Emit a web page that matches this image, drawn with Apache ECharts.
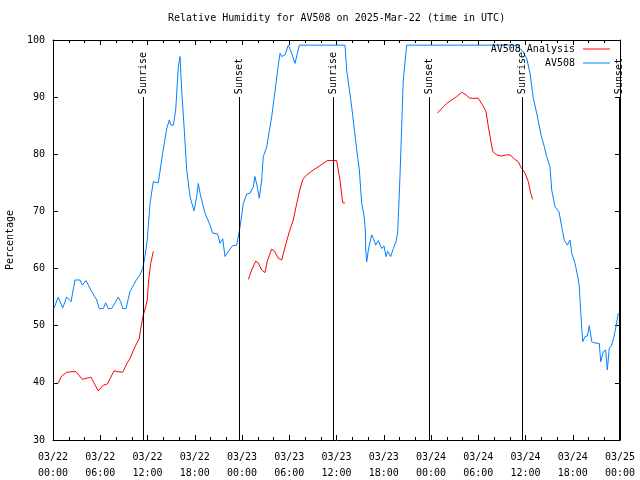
<!DOCTYPE html>
<html>
<head>
<meta charset="utf-8">
<script src="https://cdn.jsdelivr.net/npm/echarts@6/dist/echarts.min.js"></script>
<style>html,body{margin:0;padding:0;background:#fff}#c{width:640px;height:480px}</style>
</head>
<body>
<div id="c"></div>
<script>
const titleText = 'Relative Humidity for AV508 on 2025-Mar-22 (time in UTC)';
const xTickLabels = ['03/22\n00:00','03/22\n06:00','03/22\n12:00','03/22\n18:00','03/23\n00:00','03/23\n06:00','03/23\n12:00','03/23\n18:00','03/24\n00:00','03/24\n06:00','03/24\n12:00','03/24\n18:00','03/25\n00:00'];
const seriesNames = ['AV508 Analysis', 'AV508'];

// hours since 03/22 00:00 UTC
const obsHours = [0.1,0.67,1.23,1.74,2.29,2.79,3.43,3.72,4.19,4.91,5.55,5.88,6.39,6.69,7.02,7.45,8.29,8.6,8.85,9.27,9.78,10.54,11.05,11.39,11.68,11.97,12.32,12.74,13.37,13.93,14.44,14.77,14.98,15.28,15.58,15.91,16.13,16.34,16.67,16.98,17.4,17.9,18.25,18.45,18.67,19.3,19.94,20.28,20.91,21.21,21.55,21.84,22.39,22.82,23.33,23.75,24.17,24.6,25.02,25.44,25.65,25.94,26.2,26.5,26.7,27.14,27.77,28.19,28.61,28.83,29.04,29.46,29.88,30.31,30.73,31.28,37.08,37.29,37.93,38.57,38.9,39.2,39.49,39.66,39.71,39.84,40.04,40.47,40.67,40.98,41.31,41.74,42.03,42.29,42.5,42.88,43.21,43.56,43.77,43.9,44.06,44.48,44.91,59.09,59.3,59.72,60.15,60.57,60.99,61.42,61.97,62.39,62.69,63.11,63.33,63.75,64.25,64.6,64.93,65.31,65.65,65.87,66.29,66.63,66.83,67.05,67.26,67.56,67.85,68.1,68.41,68.7,69.37,69.55,69.88,70.18,70.39,70.64,70.95,71.24,71.49,71.78];
const obsValues = [53,55,53.1,55,54.2,58,58,57.1,57.9,56,54.5,53,53,54,53,53,55,54.2,53,53,56,57.9,58.9,60,62.1,65,71.4,75.2,75,80.2,84.5,86,85.1,85.1,87.75,95.3,97.1,91.25,84.25,77.25,72.6,70.1,72.6,74.9,73.2,69.7,67.6,66.2,66.05,64.4,65.2,62.1,63.25,64,64.1,67.3,71.4,73.05,73.2,74.3,76.1,74.3,72.3,75.5,79.6,81.3,86.6,91,95.6,97.7,97.1,97.4,99.1,97.7,95.9,99.1,99.1,94.75,88.3,80.75,77.25,71.4,69.4,66.75,63.25,61.2,63.25,65.9,65.3,64.1,64.9,63.5,63.95,62.1,63,62.1,63.5,64.7,66.5,70.5,76.1,93,99.1,99.1,98.5,97.9,96.8,94.2,89.8,87.2,83.4,81.3,79.6,77.8,73.75,70.8,69.95,67.3,65,64.1,65,62.7,60.9,58.6,56.8,51.6,47.2,48.1,48.2,50,47.2,47,46.9,43.7,45.5,45.75,42.25,46.05,46.6,48.1,49.8,52.2];

const anaHours = [0.67,1.1,1.74,2.37,2.92,3.72,4.19,4.83,5.12,5.75,6.39,6.9,7.75,8.29,8.85,9.43,9.78,10.41,10.96,11.14,11.47,11.77,11.97,12.15,12.41,12.74,18.0,24.8,25.23,25.74,26.07,26.5,26.92,27.21,27.77,28.1,28.61,29.04,29.59,30.01,30.51,30.86,31.28,31.71,32.22,33.05,33.9,34.83,36.02,36.15,36.44,36.79,37.08,43.0,48.8,49.05,49.56,49.99,50.63,51.26,51.9,52.44,52.95,54.01,54.56,54.98,55.28,55.58,55.84,56.34,56.98,57.61,58.03,58.67,59.09,59.39,59.52,59.94,60.15,60.36,60.66,60.91,60.99];
const anaValues = [40,41.2,41.85,41.95,41.95,40.6,40.8,40.97,40.2,38.6,39.6,39.8,42.1,41.95,41.85,43.5,44.3,46.3,47.8,49.5,51.9,53.3,54.5,58,60.9,63,null,58.1,59.75,61.3,61,59.75,59.3,61.3,63.4,63.1,61.8,61.5,64.4,66.45,68.5,70.8,73.45,75.6,76.4,77.25,78,78.9,78.9,77.8,75.5,71.5,71.5,null,87.2,87.2,88.3,88.9,89.5,90.1,90.85,90.4,89.8,89.8,88.6,87.5,84.85,82.5,80.5,79.9,79.7,79.9,79.9,79.1,78.7,77.8,77.55,76.7,76.4,75.2,73.2,72.1,72.1];

const sunHours = [11.43, 23.62, 35.56, 47.75, 59.56, 71.87];
const sunLabels = ['Sunrise','Sunset','Sunrise','Sunset','Sunrise','Sunset'];

const FONT = '"DejaVu Sans Mono", "Liberation Mono", monospace';
const zip = (a, b) => a.map((h, i) => [h, b[i]]);

const chart = echarts.init(document.getElementById('c'), null, {renderer: 'canvas'});
const axisCommon = {
  axisLine: {show: true, onZero: false, lineStyle: {color: '#000', width: 1}},
  splitLine: {show: false}
};
chart.setOption({
  animation: false,
  backgroundColor: '#fff',
  grid: {left: 53, right: 20, top: 40, bottom: 40, containLabel: false, outerBoundsMode: 'none'},
  graphic: [{
    type: 'text', left: 336 - 168, top: 13,
    style: {text: titleText, font: '10px ' + FONT, fill: '#000'}
  }],
  legend: {
    orient: 'vertical', right: 25, top: 39, align: 'right',
    icon: 'rect', itemWidth: 27, itemHeight: 1, itemGap: 4,
    textStyle: {fontFamily: FONT, fontSize: 10, color: '#000', padding: [0, 3, 0, 0]},
    data: seriesNames
  },
  xAxis: [
    Object.assign({}, axisCommon, {
      type: 'value', min: 0, max: 72, interval: 6,
      axisTick: {show: true, inside: true, length: 5, lineStyle: {color: '#000'}},
      minorTick: {show: true, splitNumber: 3, length: 3, lineStyle: {color: '#000'}},
      axisLabel: {
        margin: 9, fontFamily: FONT, fontSize: 10, color: '#000', lineHeight: 16,
        formatter: v => xTickLabels[Math.round(v / 6)]
      }
    }),
    Object.assign({}, axisCommon, {
      type: 'value', position: 'top', min: 0, max: 72, interval: 6,
      axisTick: {show: true, inside: true, length: 5, lineStyle: {color: '#000'}},
      minorTick: {show: true, splitNumber: 3, length: 3, lineStyle: {color: '#000'}},
      axisLabel: {show: false}
    })
  ],
  yAxis: [
    Object.assign({}, axisCommon, {
      type: 'value', min: 30, max: 100, interval: 10,
      name: 'Percentage', nameLocation: 'middle', nameRotate: 90, nameGap: 38,
      nameTextStyle: {fontFamily: FONT, fontSize: 10, color: '#000'},
      axisTick: {show: true, inside: true, length: 5, lineStyle: {color: '#000'}},
      axisLabel: {margin: 8, fontFamily: FONT, fontSize: 10, color: '#000'}
    }),
    Object.assign({}, axisCommon, {
      type: 'value', position: 'right', min: 30, max: 100, interval: 10,
      axisTick: {show: true, inside: true, length: 5, lineStyle: {color: '#000'}},
      axisLabel: {show: false}
    })
  ],
  series: [
    {
      name: seriesNames[0], type: 'line', data: zip(anaHours, anaValues),
      symbol: 'none', connectNulls: false, color: '#ff0000',
      lineStyle: {width: 1, color: '#ff0000'}, z: 3
    },
    {
      name: seriesNames[1], type: 'line', data: zip(obsHours, obsValues),
      symbol: 'none', color: '#0080ff',
      lineStyle: {width: 1, color: '#0080ff'}, z: 2
    },
    {
      type: 'custom', name: 'sun', data: sunHours.map((h, i) => [h, sunLabels[i]]),
      silent: true, z: 4,
      renderItem: function (params, api) {
        const h = api.value(0);
        const lab = sunLabels[params.dataIndex];
        const p0 = api.coord([h, 30]);
        const p1 = api.coord([h, 90]);
        const px = Math.round(p0[0]) + 0.5;
        return {
          type: 'group',
          children: [
            {type: 'line', shape: {x1: px, y1: p0[1], x2: px, y2: Math.round(p1[1])},
             style: {stroke: '#000', lineWidth: 1}},
            {type: 'text', x: px, y: p1[1] - 3, rotation: Math.PI / 2,
             style: {text: lab, font: '10px ' + FONT, fill: '#000', align: 'left', verticalAlign: 'middle'}}
          ]
        };
      }
    }
  ]
});
</script>
</body>
</html>
